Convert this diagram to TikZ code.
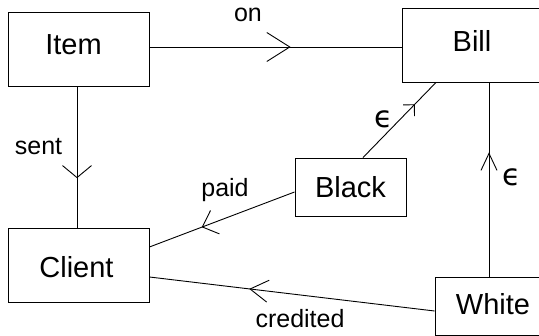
\documentclass[tikz,border=0pt]{standalone}
\usepackage{fontspec}
\setmainfont{Liberation Sans}
\newfontfamily\epsfont{DejaVu Sans}
\usetikzlibrary{arrows.meta,decorations.markings}

\tikzset{
  box/.style={draw, line width=0.9pt, inner sep=0pt, minimum width=#1,
    font=\fontsize{29}{34}\selectfont, text height=21pt, text depth=0pt},
  box/.default=141pt,
  lbl/.style={anchor=base, inner sep=0pt, font=\fontsize{25}{30}\selectfont},
  eps/.style={anchor=center, inner sep=0pt,
    font=\epsfont\fontsize{30}{32}\selectfont},
  link/.style={line width=0.9pt},
  % open barb placed part-way along a connector: position/length/width
  midbarb/.style args={#1/#2/#3}{postaction={decorate},
    decoration={markings, mark=at position #1 with
      {\arrow[line width=0.9pt]{Straight Barb[length=#2pt,width=#3pt]}}}},
}

\begin{document}
\begin{tikzpicture}[x=1pt,y=-1pt]
  \useasboundingbox (0,0) rectangle (539,336);
  \clip (0,0) rectangle (539,336);

  % entities
  \node[box, minimum height=74pt, text height=12pt] (Item) at (78.5,49)
    {Item\hspace*{10pt}};
  \node[box=140pt, minimum height=74pt, text height=13pt] (Bill) at (472,45) {Bill};
  \node[box, minimum height=74pt, text height=26pt] (Client) at (78.5,265)
    {Client\hspace*{4pt}};
  \node[box=111pt, minimum height=58pt] (Black) at (350.5,187) {Black};
  \node[box=116pt, minimum height=58pt, text height=17pt] (White) at (493,306) {White};

  % relationships
  \draw[link, midbarb={0.56/23/29}]
    ([yshift=2pt]Item.east) -- ([yshift=-2pt]Bill.west);
  \draw[link, midbarb={0.65/12/29}]
    ([xshift=-1.5pt]Item.south) -- ([xshift=-1.5pt]Client.north);
  \draw[link, midbarb={0.71/8/16}]
    ([xshift=12.5pt]Black.north) -- ([xshift=-36pt]Bill.south);
  \draw[link, midbarb={0.64/13.5/25}]
    ([yshift=-5pt]Black.west) -- ([yshift=18pt]Client.east);
  \draw[link, midbarb={0.65/18/22}]
    ([yshift=-5pt]White.west) -- ([yshift=-12pt]Client.east);
  \draw[link, midbarb={0.64/17/16}]
    ([xshift=-4pt]White.north) -- ([xshift=17pt]Bill.south);

  % relationship labels
  \node[lbl] (lon)       at (248,22)  {on};
  \node[lbl] (lsent)     at (38.5,155) {sent};
  \node[lbl] (lpaid)     at (225,197) {paid};
  \node[lbl] (lcredited) at (300,328) {credited};
  \node[eps] (leps1)     at (384,119) {ϵ};
  \node[eps] (leps2)     at (512,177) {ϵ};
\end{tikzpicture}
\end{document}
